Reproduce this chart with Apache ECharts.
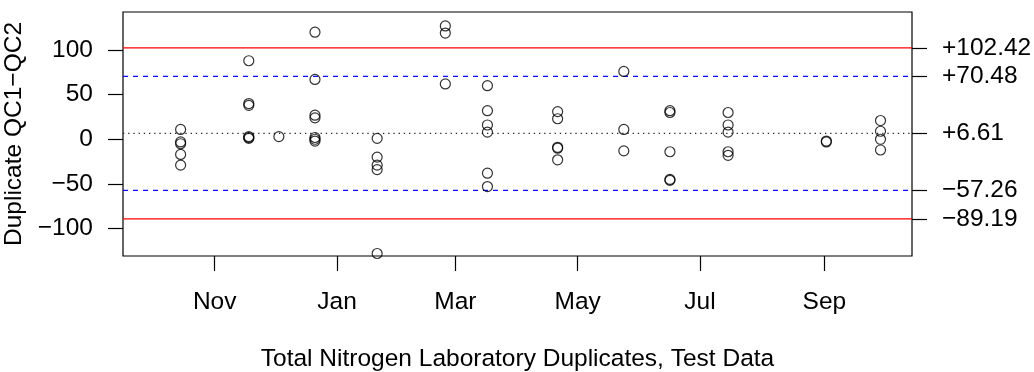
<!DOCTYPE html>
<html><head><meta charset="utf-8">
<script src="https://cdn.jsdelivr.net/npm/echarts@6/dist/echarts.min.js"></script>
<style>html,body{margin:0;padding:0;background:#fff;} #chart{width:1034px;height:372px;}</style>
</head><body><div id="chart"></div>
<script>
// ---- data ----
const pointDates = [
  '2014-10-15','2014-10-15','2014-10-15','2014-10-15','2014-10-15',
  '2014-11-18','2014-11-18','2014-11-18','2014-11-18','2014-11-18','2014-11-18',
  '2014-12-03',
  '2014-12-21','2014-12-21','2014-12-21','2014-12-21','2014-12-21','2014-12-21','2014-12-21',
  '2015-01-21','2015-01-21','2015-01-21','2015-01-21','2015-01-21',
  '2015-02-24','2015-02-24','2015-02-24',
  '2015-03-17','2015-03-17','2015-03-17','2015-03-17','2015-03-17','2015-03-17',
  '2015-04-21','2015-04-21','2015-04-21','2015-04-21','2015-04-21',
  '2015-05-24','2015-05-24','2015-05-24',
  '2015-06-16','2015-06-16','2015-06-16','2015-06-16','2015-06-16',
  '2015-07-15','2015-07-15','2015-07-15','2015-07-15','2015-07-15',
  '2015-09-02','2015-09-02',
  '2015-09-29','2015-09-29','2015-09-29','2015-09-29'
];
const pointDiffs = [
  11, -3, -5, -17, -29,
  88, 40, 38, 3, 2, 1,
  3,
  120, 67, 27, 24, 2, 0, -2,
  1, -20, -29, -34, -128,
  127, 119, 62,
  60, 32, 16, 8, -38, -53,
  31, 23, -9, -10, -23,
  76, 11, -13,
  32, 30, -14, -45, -46,
  30, 16, 8, -14, -18,
  -2, -3,
  21, 9, 0, -12
];
const monthTicks = ['2014-11-01','2015-01-01','2015-03-01','2015-05-01','2015-07-01','2015-09-01'];
const monthLabels = ['Nov','Jan','Mar','May','Jul','Sep'];
const yTicks = [-100, -50, 0, 50, 100];
const limitValues = [102.42, 70.48, 6.61, -57.26, -89.19];
const limitLabels = ['+102.42', '+70.48', '+6.61', '\u221257.26', '\u221289.19'];
const limitKinds = ['control', 'warning', 'center', 'warning', 'control'];
const xRange = ['2014-09-16 06:30', '2015-10-14 17:00'];
const yRange = [-130.8, 142.6];
const xTitle = 'Total Nitrogen Laboratory Duplicates, Test Data';
const yTitle = 'Duplicate QC1\u2212QC2';

// ---- helpers ----
function toMs(s) {
  const m = s.match(/(\d+)-(\d+)-(\d+)(?:[ T](\d+):(\d+))?/);
  return Date.UTC(+m[1], +m[2] - 1, +m[3], m[4] ? +m[4] : 0, m[5] ? +m[5] : 0);
}
const FONT = "'Liberation Sans', Arial, Helvetica, sans-serif";
const FS = 24.5;
const xMin = toMs(xRange[0]), xMax = toMs(xRange[1]);
const monthMs = monthTicks.map(toMs);
function monthLabel(v) {
  for (let i = 0; i < monthMs.length; i++) {
    if (Math.abs(monthMs[i] - v) < 86400000) return monthLabels[i];
  }
  return '';
}
function limitLabel(v) {
  for (let i = 0; i < limitValues.length; i++) {
    if (Math.abs(limitValues[i] - v) < 1e-6) return limitLabels[i];
  }
  return '';
}
function lineStyleFor(kind) {
  if (kind === 'control') return { color: '#ff0000', width: 1.2, type: 'solid' };
  if (kind === 'warning') return { color: '#0000ff', width: 1.2, type: [5, 5] };
  return { color: '#222222', width: 1.2, type: [1.3, 3.9] };
}

const limitSeries = limitValues.map((v, i) => ({
  type: 'line',
  xAxisIndex: 0, yAxisIndex: 0,
  data: [[xMin, v], [xMax, v]],
  symbol: 'none', showSymbol: false,
  silent: true,
  lineStyle: lineStyleFor(limitKinds[i]),
  itemStyle: { color: lineStyleFor(limitKinds[i]).color },
  emphasis: { disabled: true },
  z: 2
}));

const chart = echarts.init(document.getElementById('chart'), null, { renderer: 'canvas' });
chart.setOption({
  animation: false,
  backgroundColor: '#ffffff',
  textStyle: { fontFamily: FONT, color: '#000' },
  grid: {
    left: 123, right: 122, top: 12, bottom: 116,
    show: true, borderColor: '#000', borderWidth: 1.2, backgroundColor: 'transparent',
    containLabel: false, outerBoundsMode: 'none'
  },
  xAxis: {
    type: 'value',
    min: xMin, max: xMax,
    axisLine: { show: false, onZero: false },
    splitLine: { show: false },
    axisTick: { show: true, length: 15, inside: false, customValues: monthMs, lineStyle: { color: '#000', width: 1.2 } },
    axisLabel: { customValues: monthMs, formatter: monthLabel, margin: 33.5, fontSize: FS, color: '#000', fontFamily: FONT, showMinLabel: true, showMaxLabel: true },
    name: xTitle, nameLocation: 'middle', nameGap: 91,
    nameTextStyle: { fontSize: FS, color: '#000', fontFamily: FONT }
  },
  yAxis: [{
    type: 'value', position: 'left',
    min: yRange[0], max: yRange[1],
    axisLine: { show: false, onZero: false },
    splitLine: { show: false },
    axisTick: { show: true, length: 15, customValues: yTicks, lineStyle: { color: '#000', width: 1.2 } },
    axisLabel: {
      customValues: yTicks, margin: 30, fontSize: FS, color: '#000', fontFamily: FONT,
      formatter: v => (v < 0 ? '\u2212' + Math.abs(v) : String(v))
    },
    name: yTitle, nameLocation: 'middle', nameGap: 84,
    nameTextStyle: { fontSize: FS, color: '#000', fontFamily: FONT }
  }, {
    type: 'value', position: 'right',
    min: yRange[0], max: yRange[1],
    axisLine: { show: false, onZero: false },
    splitLine: { show: false },
    axisTick: { show: true, length: 15, customValues: limitValues, lineStyle: { color: '#000', width: 1.2 } },
    axisLabel: { customValues: limitValues, formatter: limitLabel, margin: 30, fontSize: FS, color: '#000', fontFamily: FONT, align: 'left' }
  }],
  series: limitSeries.concat([{
    type: 'scatter',
    xAxisIndex: 0, yAxisIndex: 0,
    symbol: 'circle', symbolSize: 10,
    itemStyle: { color: 'rgba(0,0,0,0)', borderColor: '#000', borderWidth: 1.2 },
    emphasis: { disabled: true },
    data: pointDates.map((d, i) => [toMs(d), pointDiffs[i]]),
    z: 5
  }])
});
</script></body></html>
